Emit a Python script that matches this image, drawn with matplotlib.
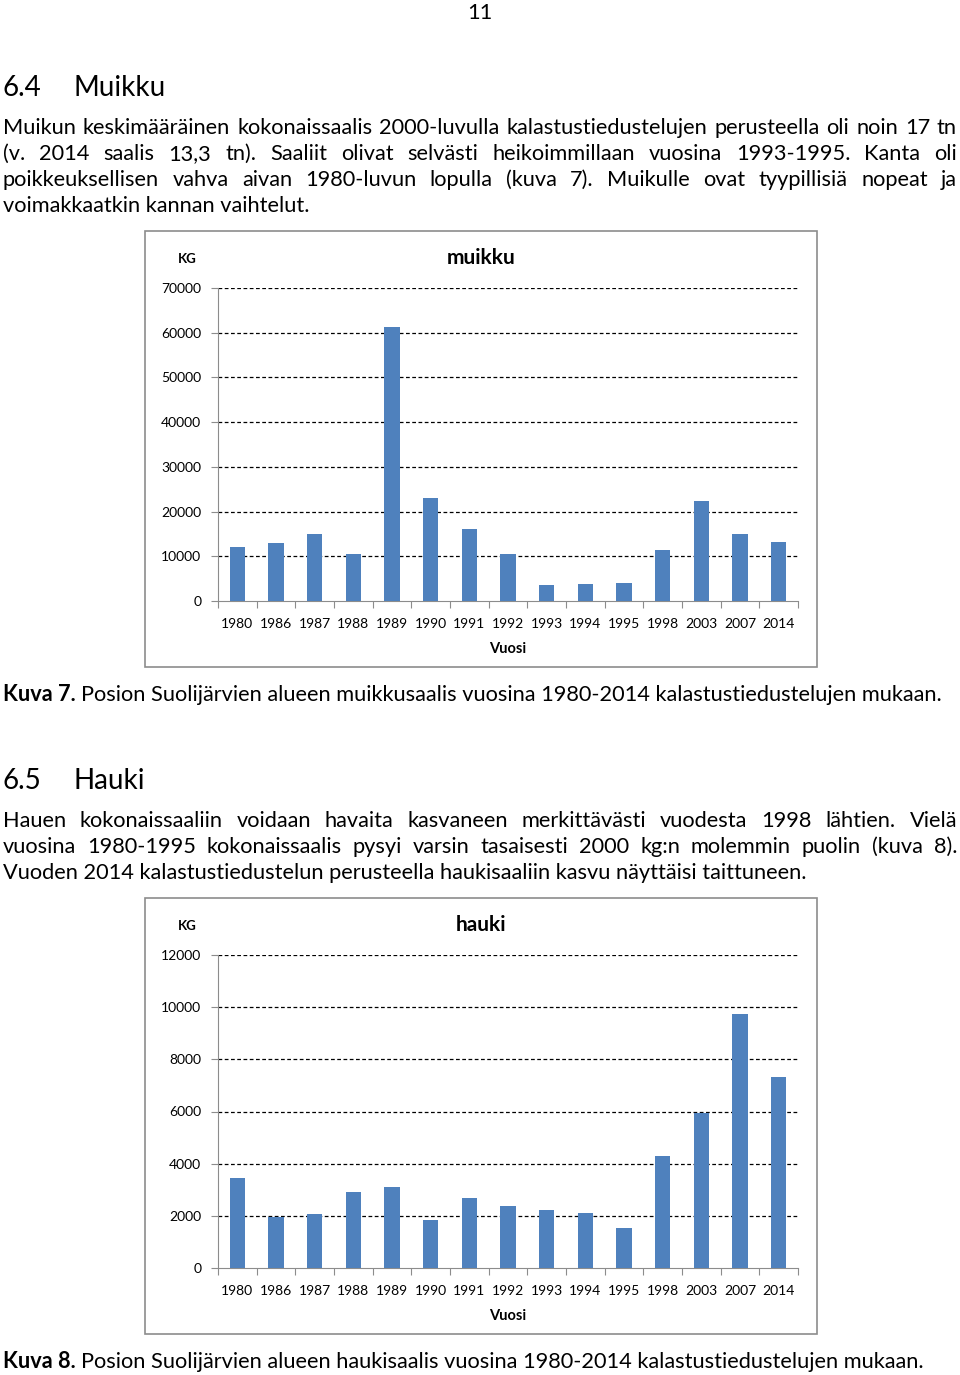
import matplotlib
matplotlib.use("Agg")
import matplotlib.pyplot as plt
import matplotlib.patches as mpatches
import numpy as np

plt.rcParams['font.family'] = ['Lato', 'DejaVu Sans']

# Data
years = ['1980', '1986', '1987', '1988', '1989', '1990', '1991', '1992',
         '1993', '1994', '1995', '1998', '2003', '2007', '2014']
muikku_kg = [12000, 13000, 15000, 10600, 61200, 23000, 16100, 10600,
             3500, 3800, 4000, 11500, 22300, 15000, 13300]
hauki_kg = [3450, 1940, 2070, 2910, 3110, 1850, 2690, 2360,
            2230, 2110, 1530, 4290, 5930, 9750, 7310]

muikku_ticks = [0, 10000, 20000, 30000, 40000, 50000, 60000, 70000]
hauki_ticks = [0, 2000, 4000, 6000, 8000, 10000, 12000]

para1_lines = [
    "Muikun keskimääräinen kokonaissaalis 2000-luvulla kalastustiedustelujen perusteella oli noin 17 tn",
    "(v. 2014 saalis 13,3 tn). Saaliit olivat selvästi heikoimmillaan vuosina 1993-1995. Kanta oli",
    "poikkeuksellisen vahva aivan 1980-luvun lopulla (kuva 7). Muikulle ovat tyypillisiä nopeat ja",
    "voimakkaatkin kannan vaihtelut.",
]
para2_lines = [
    "Hauen kokonaissaaliin voidaan havaita kasvaneen merkittävästi vuodesta 1998 lähtien. Vielä",
    "vuosina 1980-1995 kokonaissaalis pysyi varsin tasaisesti 2000 kg:n molemmin puolin (kuva 8).",
    "Vuoden 2014 kalastustiedustelun perusteella haukisaaliin kasvu näyttäisi taittuneen.",
]

W, H = 960, 1375
fig = plt.figure(figsize=(W / 100, H / 100), dpi=100)
renderer = fig.canvas.get_renderer()


def fx(x):
    return x / W


def fy(y):
    return 1 - y / H


def text_width(s, **kw):
    t = fig.text(0, 0, s, **kw)
    w = t.get_window_extent(renderer).width
    t.remove()
    return w


BODY = 15.7


def justified(line, base, x0=3, x1=957, last=False):
    if last:
        fig.text(fx(x0), fy(base), line, fontsize=BODY, va='baseline', ha='left')
        return
    words = line.split(' ')
    widths = [text_width(w, fontsize=BODY) for w in words]
    gap = (x1 - x0 - sum(widths)) / (len(words) - 1)
    x = x0
    for w, wd in zip(words, widths):
        fig.text(fx(x), fy(base), w, fontsize=BODY, va='baseline', ha='left')
        x += wd + gap


def caption(label, rest, base):
    fig.text(fx(3), fy(base), label, fontsize=BODY, fontweight='bold', va='baseline', ha='left')
    wd = text_width(label + ' ', fontsize=BODY, fontweight='bold')
    fig.text(fx(3 + wd), fy(base), rest, fontsize=BODY, va='baseline', ha='left')


def heading(num, name, base):
    fig.text(fx(3), fy(base), num, fontsize=20, va='baseline', ha='left')
    fig.text(fx(73), fy(base), name, fontsize=20, va='baseline', ha='left')


def chart(top, values, ticks, title):
    # frame around the chart
    fig.patches.append(mpatches.Rectangle((fx(145), fy(top + 436)), 672 / W, 436 / H,
                                          transform=fig.transFigure, fill=False,
                                          edgecolor='#8c8c8c', linewidth=1.2))
    ax = fig.add_axes([fx(218), fy(top + 370), 580 / W, 313 / H])
    x = np.arange(len(years))
    ax.bar(x, values, width=0.4, color='#4f81bd', zorder=3)
    ax.set_xlim(-0.5, len(years) - 0.5)
    ax.set_ylim(ticks[0], ticks[-1])
    ax.set_yticks(ticks)
    ax.set_yticklabels([str(t) for t in ticks], fontsize=10)
    ax.set_xticks(np.arange(len(years) + 1) - 0.5)
    ax.set_xticklabels([])
    ax.set_xticks(x, minor=True)
    ax.set_xticklabels(years, minor=True, fontsize=10)
    ax.tick_params(axis='x', which='minor', length=0, pad=12)
    ax.tick_params(axis='x', which='major', length=5, color='#8c8c8c', direction='out')
    ax.tick_params(axis='y', length=5, color='#8c8c8c', direction='out', pad=7)
    for t in ticks[1:]:
        ax.axhline(t, color='black', linestyle=(0, (3, 2)), linewidth=0.9, zorder=1)
    for s in ['top', 'right']:
        ax.spines[s].set_visible(False)
    for s in ['left', 'bottom']:
        ax.spines[s].set_color('#8c8c8c')
    ax.set_xlabel('Vuosi', fontsize=10.5, fontweight='bold', labelpad=9)
    fig.text(fx(187), fy(top + 28), 'KG', fontsize=9.5, fontweight='bold', ha='center', va='center')
    fig.text(fx(481), fy(top + 27), title, fontsize=15, fontweight='bold', ha='center', va='center')
    return ax


# page number
fig.text(0.5, fy(19), '11', fontsize=BODY, ha='center', va='baseline')

heading('6.4', 'Muikku', 96)
for i, line in enumerate(para1_lines):
    justified(line, 134 + 26 * i, last=(i == len(para1_lines) - 1))

chart(231, muikku_kg, muikku_ticks, 'muikku')
caption('Kuva 7.', 'Posion Suolijärvien alueen muikkusaalis vuosina 1980-2014 kalastustiedustelujen mukaan.', 701)

heading('6.5', 'Hauki', 789)
for i, line in enumerate(para2_lines):
    justified(line, 827 + 26 * i, last=(i == len(para2_lines) - 1))

chart(898, hauki_kg, hauki_ticks, 'hauki')
caption('Kuva 8.', 'Posion Suolijärvien alueen haukisaalis vuosina 1980-2014 kalastustiedustelujen mukaan.', 1368)

fig.savefig('out.png', dpi=100)
